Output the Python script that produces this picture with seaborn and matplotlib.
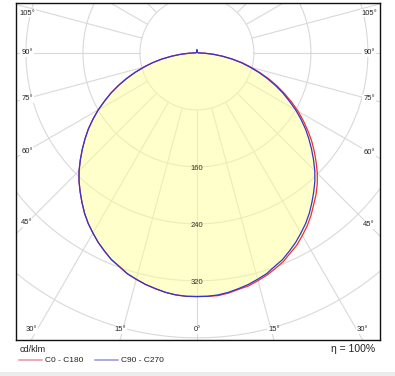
"""
Photometric polar diagram (cd/klm) - C0/C180 and C90/C270 planes.
"""

import numpy as np
import pandas as pd
import matplotlib
matplotlib.use("Agg")
import matplotlib.pyplot as plt
from matplotlib.patches import Rectangle
from matplotlib.lines import Line2D
import seaborn as sns

# ---- data (cd/klm, gamma 0..90 every 2.5 deg, then upward) ----
ANGLES = list(np.arange(0, 90.1, 2.5)) + [120, 170, 180]
C0 = [342, 342, 342, 340, 337, 335, 331, 327, 322, 317, 310, 304, 296, 288, 279, 269, 260, 250, 239,
      227, 215, 203, 190, 177, 164, 150, 136, 122, 108, 93, 79, 66, 51, 37, 24, 11, 2, 1, 1, 4]
C180 = [342, 342, 341, 339, 336, 333, 329, 325, 319, 314, 307, 300, 292, 284, 275, 265, 255, 245, 234,
        222, 210, 198, 186, 173, 160, 146, 133, 119, 105, 91, 77, 64, 50, 36, 23, 11, 2, 1, 1, 4]
C90 = [342, 342, 341, 339, 336, 333, 329, 325, 319, 314, 307, 300, 292, 284, 275, 265, 255, 245, 234,
       222, 210, 198, 186, 173, 160, 146, 133, 119, 105, 91, 77, 64, 50, 36, 23, 11, 2, 1, 1, 4]
C270 = [342, 342, 341, 339, 336, 333, 329, 325, 319, 314, 307, 300, 292, 284, 275, 265, 255, 245, 234,
        222, 210, 198, 186, 173, 160, 146, 133, 119, 105, 91, 77, 64, 50, 36, 23, 11, 2, 1, 1, 4]

RINGS = [80, 160, 240, 320, 400, 480, 560]
RING_LABELS = [160, 240, 320]
SPOKES = list(range(0, 360, 15))
TICK_ANGLES = [0, 15, 30, 45, 60, 75, 90, 105]

RED = "#f03030"
BLUE = "#3434d0"
GRID = "#d9d9d9"

# axes frame in data units (cd/klm), centre of diagram at (0, 0)
XLIM = (-254, 257)
YLIM = (-403, 70)
PX = 364 / (XLIM[1] - XLIM[0])  # pixels per cd/klm


def half_to_xy(right, left):
    th = np.radians(ANGLES)
    r = np.array(right, float)
    l = np.array(left, float)
    xl, yl = -l * np.sin(th), -l * np.cos(th)
    xr, yr = r * np.sin(th), -r * np.cos(th)
    x = np.concatenate([xl[::-1], xr[1:]])
    y = np.concatenate([yl[::-1], yr[1:]])
    return x, y


x0, y0 = half_to_xy(C0, C180)
x9, y9 = half_to_xy(C90, C270)
df = pd.concat([
    pd.DataFrame({"x": x0, "y": y0, "plane": "C0 - C180"}),
    pd.DataFrame({"x": x9, "y": y9, "plane": "C90 - C270"}),
])

sns.set_style("white")
plt.rcParams["font.family"] = ["Liberation Sans", "DejaVu Sans"]

fig = plt.figure(figsize=(3.95, 3.76), dpi=100)
fig.patches.append(Rectangle((0, 0), 1, 4 / 376, transform=fig.transFigure,
                             facecolor="#ececec", edgecolor="none"))
ax = fig.add_axes([16 / 395, 36 / 376, 364 / 395, 337 / 376])

# grid: rings + spokes (spokes start at first ring)
t = np.linspace(0, 2 * np.pi, 400)
for r in RINGS:
    ax.plot(r * np.cos(t), r * np.sin(t), color=GRID, lw=0.8, zorder=1)
for a in SPOKES:
    th = np.radians(a)
    ax.plot([RINGS[0] * np.sin(th), 700 * np.sin(th)],
            [-RINGS[0] * np.cos(th), -700 * np.cos(th)], color=GRID, lw=0.8, zorder=1)

# light fill (outer envelope)
ax.fill(x0, y0, color="#ffff99", alpha=0.5, lw=0, zorder=2)

sns.lineplot(data=df, x="x", y="y", hue="plane", estimator=None, sort=False,
             palette={"C0 - C180": RED, "C90 - C270": BLUE}, lw=0.9, legend=False, ax=ax, zorder=3)

for r in RING_LABELS:
    ax.text(0, -r - 2.5, str(r), ha="center", va="center", fontsize=5.5, color="#333333", zorder=4)

# angle labels along the frame
inset_x = 11 / PX
inset_y = 10 / PX
for a in TICK_ANGLES:
    for side in ([1] if a == 0 else [-1, 1]):
        th = np.radians(a)
        dx, dy = side * np.sin(th), -np.cos(th)
        tb = (YLIM[0]) / dy if dy < 0 else np.inf
        xe = XLIM[1] if side > 0 else XLIM[0]
        ts = xe / dx if dx != 0 else np.inf
        if tb <= ts:
            lx, ly = tb * dx, YLIM[0] + inset_y
        else:
            lx = xe - side * inset_x
            ly = min(lx / dx * dy, YLIM[1] - inset_y)
        ax.text(lx, ly, f"{a}°", ha="center", va="center", fontsize=5.5, color="#222222",
                zorder=5, bbox=dict(fc="white", ec="none", pad=0.6))

ax.set_xlim(*XLIM)
ax.set_ylim(*YLIM)
ax.set_xticks([])
ax.set_yticks([])
ax.set_xlabel("")
ax.set_ylabel("")
for s in ax.spines.values():
    s.set_visible(True)
    s.set_color("#111111")
    s.set_linewidth(1.0)

# footer: unit, legend and efficiency
fig.text(20 / 395, 1 - 350 / 376, "cd/klm", ha="left", va="center", fontsize=6.5, color="#222222")
yl = 1 - 360 / 376
fig.lines.append(Line2D([19 / 395, 42 / 395], [yl, yl], transform=fig.transFigure, color="#f2a6b4", lw=1.4))
fig.text(45 / 395, yl, "C0 - C180", ha="left", va="center", fontsize=6, color="#222222")
fig.lines.append(Line2D([95 / 395, 118 / 395], [yl, yl], transform=fig.transFigure, color="#a8a8e6", lw=1.4))
fig.text(121 / 395, yl, "C90 - C270", ha="left", va="center", fontsize=6, color="#222222")
fig.text(375 / 395, 1 - 349 / 376, "η = 100%", ha="right", va="center", fontsize=7.5, color="#222222")

fig.savefig("out.png", dpi=100)
